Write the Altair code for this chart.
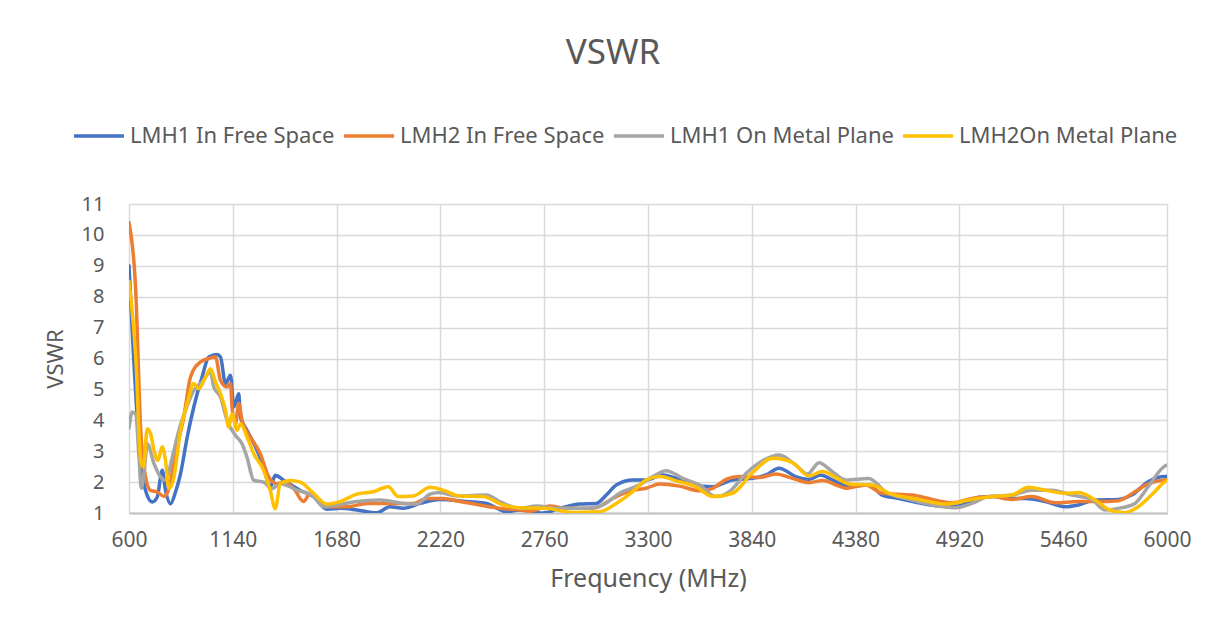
import altair as alt
import pandas as pd

series_names = ["LMH1 In Free Space", "LMH2 In Free Space", "LMH1 On Metal Plane", "LMH2On Metal Plane"]
series_colors = ["#4472C4", "#ED7D31", "#A5A5A5", "#FFC000"]
x_ticks = [600, 1140, 1680, 2220, 2760, 3300, 3840, 4380, 4920, 5460, 6000]
y_ticks = [1, 2, 3, 4, 5, 6, 7, 8, 9, 10, 11]

# LMH1 In Free Space
freq_b = [600, 620, 650, 686, 721, 747, 773, 790, 816, 842, 868, 903, 937, 980, 1015,
          1058, 1076, 1102, 1128, 1145, 1171, 1180, 1214, 1266, 1300, 1335, 1361, 1404, 1491, 1560,
          1629, 1698, 1785, 1889, 1958, 2027, 2114, 2217, 2356, 2460, 2564, 2633, 2754, 2840, 2944,
          3031, 3083, 3135, 3221, 3290, 3377, 3446, 3532, 3636, 3740, 3844, 3913, 3982, 4069, 4138,
          4198, 4259, 4345, 4449, 4518, 4605, 4709, 4812, 4916, 5020, 5106, 5193, 5262, 5366, 5470,
          5539, 5626, 5747, 5816, 5902, 5989, 6000]
vswr_b = [9.0, 6.5, 3.5, 1.73, 1.36, 1.52, 2.38, 1.73, 1.3, 1.68, 2.27, 3.46, 4.43, 5.4, 6.05,
          6.13, 6.05, 5.19, 5.46, 4.43, 4.86, 4.1, 3.68, 3.03, 2.49, 1.84, 2.22, 2.06, 1.73, 1.53,
          1.12, 1.15, 1.1, 1.01, 1.2, 1.15, 1.31, 1.44, 1.37, 1.31, 1.04, 1.1, 1.0, 1.15, 1.29,
          1.31, 1.58, 1.91, 2.07, 2.07, 2.23, 2.12, 1.91, 1.85, 2.07, 2.12, 2.23, 2.45, 2.18, 2.09,
          2.23, 2.07, 1.87, 1.91, 1.58, 1.47, 1.33, 1.23, 1.23, 1.51, 1.53, 1.47, 1.47, 1.37, 1.2,
          1.26, 1.42, 1.44, 1.58, 2.01, 2.18, 2.18]

# LMH2 In Free Space
freq_o = [600, 635, 661, 678, 712, 747, 782, 808, 842, 885, 920, 972, 1015, 1050, 1076,
          1110, 1128, 1136, 1154, 1171, 1188, 1231, 1283, 1327, 1370, 1404, 1456, 1508, 1543, 1629,
          1733, 1837, 1958, 2079, 2148, 2235, 2321, 2425, 2529, 2633, 2685, 2789, 2875, 3013, 3117,
          3221, 3290, 3360, 3464, 3567, 3637, 3706, 3775, 3879, 3965, 4052, 4138, 4207, 4294, 4328,
          4432, 4518, 4674, 4778, 4882, 4985, 5089, 5193, 5297, 5418, 5539, 5643, 5747, 5833, 5902,
          5989, 6000]
vswr_o = [10.4, 8.2, 3.68, 2.49, 1.73, 1.68, 1.54, 1.79, 2.92, 4.1, 5.4, 5.89, 6.0, 6.05, 5.29,
          5.08, 5.19, 4.43, 3.89, 4.54, 4.0, 3.46, 2.92, 2.17, 1.95, 2.0, 1.8, 1.37, 1.64, 1.2,
          1.2, 1.31, 1.31, 1.31, 1.47, 1.47, 1.37, 1.26, 1.15, 1.1, 1.06, 1.23, 1.15, 1.15, 1.47,
          1.74, 1.8, 1.94, 1.87, 1.72, 1.8, 2.09, 2.18, 2.15, 2.26, 2.12, 1.98, 2.05, 1.87, 1.8,
          1.91, 1.64, 1.58, 1.44, 1.33, 1.47, 1.53, 1.44, 1.53, 1.33, 1.37, 1.37, 1.4, 1.69, 1.94,
          2.07, 2.08]

# LMH1 On Metal Plane
freq_g = [600, 617, 635, 652, 664, 678, 695, 730, 764, 790, 825, 860, 894, 937, 980,
          1024, 1041, 1076, 1110, 1154, 1188, 1214, 1249, 1300, 1344, 1387, 1474, 1560, 1612, 1681,
          1785, 1906, 2027, 2096, 2166, 2217, 2304, 2460, 2529, 2633, 2719, 2840, 2979, 3065, 3152,
          3256, 3325, 3394, 3481, 3567, 3654, 3723, 3810, 3896, 3983, 4069, 4130, 4190, 4259, 4328,
          4449, 4536, 4674, 4778, 4899, 4985, 5072, 5193, 5297, 5401, 5504, 5608, 5677, 5747, 5833,
          5902, 5989, 6000]
vswr_g = [3.75, 4.27, 4.2, 2.8, 1.8, 2.27, 3.24, 2.6, 2.17, 2.06, 2.8, 3.68, 4.32, 4.97, 5.24,
          5.56, 5.08, 4.75, 4.0, 3.51, 3.24, 2.8, 2.06, 2.0, 1.79, 1.95, 1.74, 1.53, 1.2, 1.26,
          1.37, 1.42, 1.31, 1.29, 1.61, 1.66, 1.55, 1.58, 1.37, 1.15, 1.23, 1.15, 1.15, 1.26, 1.64,
          1.91, 2.18, 2.37, 2.12, 1.91, 1.53, 1.69, 2.28, 2.69, 2.88, 2.55, 2.26, 2.63, 2.34, 2.07,
          2.12, 1.69, 1.42, 1.26, 1.17, 1.31, 1.53, 1.58, 1.74, 1.74, 1.58, 1.44, 1.1, 1.15, 1.31,
          1.85, 2.52, 2.55]

# LMH2On Metal Plane
freq_y = [600, 635, 661, 675, 695, 712, 730, 750, 773, 790, 808, 834, 868, 903, 937,
          963, 998, 1024, 1050, 1076, 1102, 1119, 1136, 1162, 1180, 1214, 1249, 1300, 1335, 1361,
          1387, 1439, 1491, 1560, 1629, 1698, 1785, 1871, 1949, 2001, 2079, 2166, 2235, 2321, 2443,
          2546, 2633, 2771, 2910, 3048, 3135, 3221, 3290, 3360, 3464, 3550, 3637, 3740, 3844, 3948,
          4052, 4138, 4207, 4294, 4345, 4466, 4553, 4709, 4847, 4985, 5089, 5193, 5280, 5366, 5470,
          5539, 5626, 5695, 5781, 5850, 5919, 5989, 6000]
vswr_y = [8.5, 6.05, 2.7, 2.49, 3.73, 3.57, 3.03, 2.7, 3.14, 2.7, 1.79, 2.17, 3.68, 4.54, 5.19,
          5.02, 5.4, 5.67, 5.24, 4.86, 4.32, 3.78, 4.21, 3.68, 3.89, 3.46, 2.92, 2.38, 1.73, 1.14,
          1.95, 2.05, 2.0, 1.64, 1.29, 1.37, 1.61, 1.69, 1.85, 1.53, 1.55, 1.83, 1.74, 1.55, 1.53,
          1.26, 1.17, 1.15, 1.02, 1.04, 1.31, 1.69, 2.07, 2.18, 2.01, 1.85, 1.53, 1.64, 2.31, 2.77,
          2.63, 2.2, 2.34, 2.09, 1.94, 1.91, 1.64, 1.44, 1.29, 1.44, 1.53, 1.58, 1.83, 1.74, 1.64,
          1.66, 1.42, 1.12, 1.01, 1.2, 1.58, 2.01, 2.05]

rows = []
for name, fs, vs in zip(series_names,
                        [freq_b, freq_o, freq_g, freq_y],
                        [vswr_b, vswr_o, vswr_g, vswr_y]):
    for f, v in zip(fs, vs):
        rows.append({"series": name, "freq": f, "vswr": v})
df = pd.DataFrame(rows)

text_color = "#595959"
grid_color = "#d9d9d9"

chart = alt.Chart(df).mark_line(
    strokeWidth=3.5, interpolate="monotone", strokeJoin="round", strokeCap="round", clip=True
).encode(
    x=alt.X("freq:Q",
            scale=alt.Scale(domain=[600, 6000], nice=False, zero=False),
            axis=alt.Axis(values=x_ticks, title="Frequency (MHz)", format="d",
                          grid=True, gridColor=grid_color, gridWidth=1.5,
                          domain=True, domainColor="#bfbfbf", domainWidth=2,
                          ticks=False, labelPadding=16, labelFontSize=21,
                          labelColor=text_color, titleFontSize=25,
                          titleFontWeight="normal", titleColor=text_color,
                          titlePadding=16, labelFlush=False)),
    y=alt.Y("vswr:Q",
            scale=alt.Scale(domain=[1, 11], nice=False, zero=False),
            axis=alt.Axis(values=y_ticks, title="VSWR", format="d",
                          grid=True, gridColor=grid_color, gridWidth=1.5,
                          domain=False, ticks=False, labelPadding=25,
                          labelFontSize=20, labelColor=text_color,
                          titleFontSize=22, titleFontWeight="normal",
                          titleColor=text_color, titlePadding=14)),
    color=alt.Color("series:N",
                    scale=alt.Scale(domain=series_names, range=series_colors),
                    sort=series_names,
                    legend=alt.Legend(title=None, orient="none", legendX=-57, legendY=-95,
                                      direction="horizontal", columns=4,
                                      symbolType="stroke", symbolSize=2500,
                                      symbolStrokeWidth=3.5, labelFontSize=22,
                                      labelColor=text_color, labelLimit=400,
                                      labelOffset=4, columnPadding=2)),
).properties(
    width=1038,
    height=309,
    title=alt.TitleParams("VSWR", fontSize=35, fontWeight="normal", color=text_color,
                          anchor="middle", offset=38, dx=-35),
    autosize=alt.AutoSizeParams(type="none"),
    padding={"left": 121, "top": 196, "right": 43, "bottom": 100},
).configure(
    font="Noto Sans"
).configure_view(
    stroke=None
)

chart.save("out.html", embed_options={"renderer": "svg", "actions": False})
